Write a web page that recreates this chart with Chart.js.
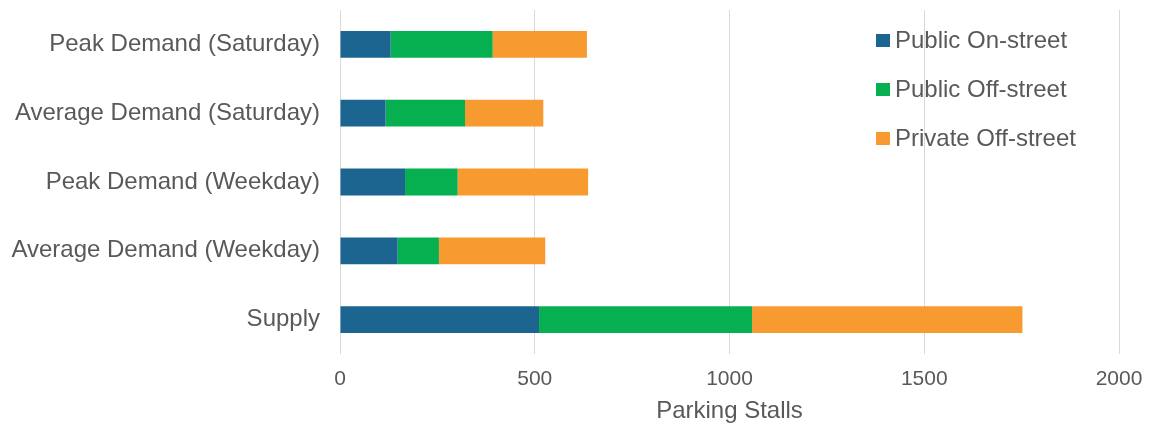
<!DOCTYPE html>
<html>
<head>
<meta charset="utf-8">
<script src="https://cdn.jsdelivr.net/npm/chart.js@4/dist/chart.umd.min.js"></script>
<style>
  body { margin: 0; background: #fff; }
  #wrap { position: relative; width: 1151px; height: 426px; }
  #legend { position: absolute; left: 876px; top: 25px; font-family: "Liberation Sans", Arial, sans-serif; font-size: 24px; color: #595959; }
  #legend div { height: 49px; line-height: 30px; white-space: nowrap; }
  #legend span { display: inline-block; width: 14px; height: 13px; margin-right: 5px; vertical-align: 1px; }
</style>
</head>
<body>
<div id="wrap">
  <canvas id="chart"></canvas>
  <div id="legend"></div>
</div>
<script>
const categories = ['Peak Demand (Saturday)', 'Average Demand (Saturday)', 'Peak Demand (Weekday)', 'Average Demand (Weekday)', 'Supply'];
const seriesNames = ['Public On-street', 'Public Off-street', 'Private Off-street'];
const publicOnStreet = [130, 117, 167, 148, 511];
const publicOffStreet = [262, 204, 135, 106, 547];
const privateOffStreet = [242, 201, 335, 273, 694];
const xTicks = [0, 500, 1000, 1500, 2000];
const colors = ['#1d6591', '#06b050', '#f79a30'];

const textColor = '#595959';
const fontFamily = '"Liberation Sans", Arial, sans-serif';

let values = [publicOnStreet, publicOffStreet, privateOffStreet];
let datasets = seriesNames.map((name, i) => ({
  label: name,
  data: values[i],
  backgroundColor: colors[i],
  barPercentage: 0.39,
  categoryPercentage: 1
}));

// legend drawn as html, vertical list top right
let legend = document.getElementById('legend');
seriesNames.forEach((name, i) => {
  let row = document.createElement('div');
  row.innerHTML = '<span style="background:' + colors[i] + '"></span>' + name;
  legend.appendChild(row);
});

new Chart('chart', {
  type: 'bar',
  data: { labels: categories, datasets: datasets },
  options: {
    indexAxis: 'y',
    responsive: true,
    maintainAspectRatio: false,
    animation: false,
    layout: { padding: { top: 10, right: 32, left: 0, bottom: 0 } },
    plugins: {
      legend: { display: false },
      tooltip: { enabled: false }
    },
    scales: {
      x: {
        stacked: true,
        min: xTicks[0],
        max: xTicks[xTicks.length - 1],
        afterBuildTicks: s => { s.ticks = xTicks.map(v => ({ value: v })) },
        afterFit: s => { s.height = 72; s.paddingLeft = 0; s.paddingRight = 0 },
        grid: { color: '#d9d9d9', drawTicks: false },
        border: { display: false },
        ticks: {
          color: textColor,
          font: { family: fontFamily, size: 21 },
          padding: 13,
          callback: v => String(v)
        },
        title: {
          display: true,
          text: 'Parking Stalls',
          color: textColor,
          font: { family: fontFamily, size: 24 },
          padding: { top: 0, bottom: 0 }
        }
      },
      y: {
        stacked: true,
        afterFit: s => { s.width = 340; s.paddingTop = 0; s.paddingBottom = 0 },
        grid: { display: false, drawTicks: false },
        border: { display: false },
        ticks: { color: textColor, font: { family: fontFamily, size: 24 }, padding: 20 }
      }
    }
  }
});
</script>
</body>
</html>
